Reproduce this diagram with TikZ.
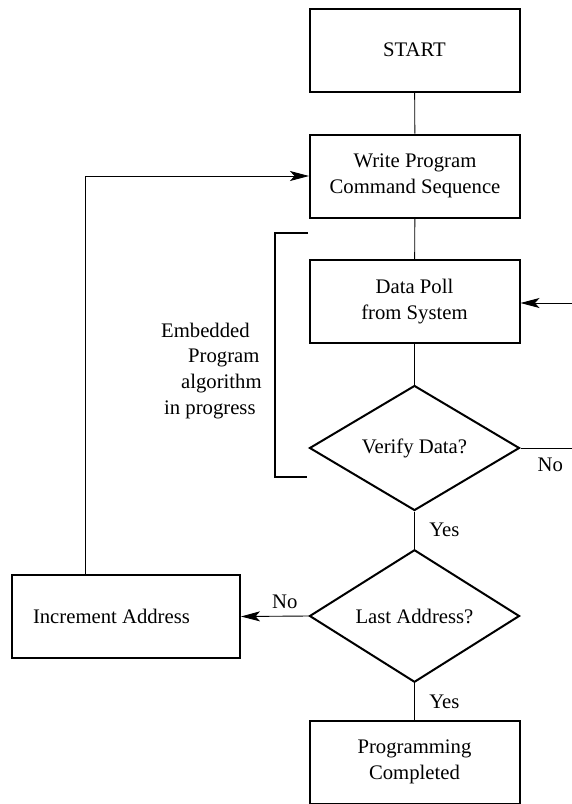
\documentclass[tikz,border=0pt]{standalone}
\usepackage{fontspec}
\setmainfont{Liberation Serif}
\usetikzlibrary{shapes.geometric,arrows.meta}
\begin{document}
\begin{tikzpicture}[x=1pt,y=-1pt,
    font=\fontsize{20.7}{25.7}\selectfont,
    block/.style={draw,line width=2pt,minimum width=210pt,minimum height=83pt,align=center,inner sep=0pt},
    query/.style={draw,diamond,line width=2pt,minimum width=210pt,minimum height=125pt,inner sep=0pt},
    link/.style={line width=0.9pt},
    feed/.style={line width=0.9pt,-{Stealth[length=19pt,width=10pt,inset=4.5pt]}}]
    \useasboundingbox (0,0) rectangle (572,804);
    \node[block] (start) at (414.5,50) {START};
    \node[block] (write) at (415,176) {Write Program\\Command Sequence};
    \node[block] (poll) at (414.5,301.5) {Data Poll\\from System};
    \node[query] (verify) at (414.5,448) {Verify Data?};
    \node[query] (last) at (414.5,616) {Last Address?};
    \node[block] (done) at (414.5,762) {Programming\\Completed};
    \node[block,text width=186pt,align=flush left,inner xsep=21pt] (incr) at (126,616.5) {Increment Address};
    \node[align=left,inner sep=0pt,anchor=west] (embed) at (161,370.7) {Embedded\\\hspace*{27pt}Program\\\hspace*{20pt}algorithm\\\hspace*{3pt}in progress};
    \coordinate (pollin) at (572,303);
    \coordinate (noout) at (572,448);
    \draw[line width=2pt] (308,233) -- (275,233) -- (275,477) -- (307,477);
    \draw[link] (start) -- (write);
    \draw[link] (write) -- (poll);
    \draw[link] (poll) -- (verify);
    \draw[link] (verify) -- (last) node[midway,right,xshift=11pt]{Yes};
    \draw[link] (last) -- (done) node[midway,right,xshift=11pt]{Yes};
    \draw[link] (verify.east) -- (noout) node[midway,below,xshift=4pt,yshift=-6pt]{No};
    \draw[feed] (pollin) -- (pollin -| poll.east);
    \draw[feed] (last.west) -- (incr.east) node[midway,above,xshift=10pt,yshift=4pt]{No};
    \draw[feed] ([xshift=74pt]incr.north west) |- (write.west);
\end{tikzpicture}
\end{document}
